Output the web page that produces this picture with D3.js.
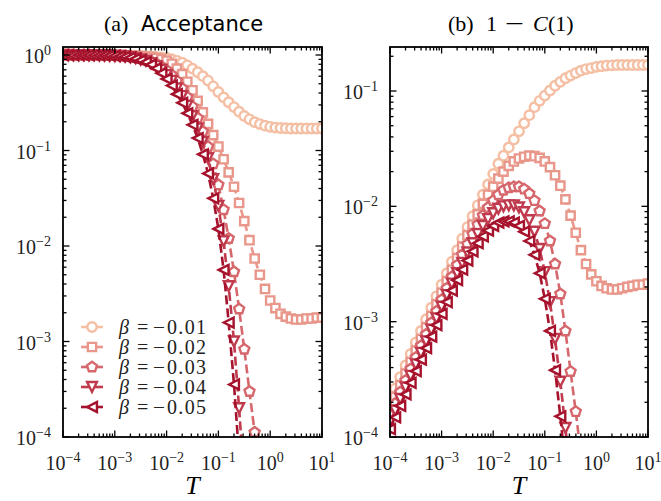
<!DOCTYPE html>
<html><head><meta charset="utf-8">
<script src="https://cdn.jsdelivr.net/npm/d3@7"></script>
<style>body{margin:0;background:#fff}svg{display:block}
text{font-family:"Liberation Serif","DejaVu Serif","Noto Serif",serif}</style>
</head><body>
<script>
// ---------------- data ----------------
const T = [1.00e-4,1.26e-4,1.58e-4,2.00e-4,2.51e-4,3.16e-4,3.98e-4,5.01e-4,6.31e-4,7.94e-4,
  1.00e-3,1.26e-3,1.58e-3,2.00e-3,2.51e-3,3.16e-3,3.98e-3,5.01e-3,6.31e-3,7.94e-3,
  1.00e-2,1.26e-2,1.58e-2,2.00e-2,2.51e-2,3.16e-2,3.98e-2,5.01e-2,6.31e-2,7.94e-2,
  0.100,0.126,0.158,0.200,0.251,0.316,0.398,0.501,0.631,0.794,
  1.00,1.26,1.58,2.00,2.51,3.16,3.98,5.01,6.31,7.94,10.0];

const betaLabels = ["0.01","0.02","0.03","0.04","0.05"];

// (a) Acceptance
const acc1 = [1.0,1.0,1.0,0.999,0.999,0.999,0.998,0.998,0.997,0.996,0.995,
  0.994,0.992,0.989,0.985,0.98,0.974,0.966,0.956,0.944,0.93,
  0.905,0.87,0.83,0.78,0.72,0.66,0.60,0.54,0.47,0.41,
  0.36,0.32,0.285,0.255,0.23,0.212,0.198,0.189,0.182,0.177,
  0.174,0.172,0.171,0.170,0.170,0.170,0.170,0.170,0.170,0.170];
const acc2 = [1.0,1.0,1.0,0.999,0.999,0.998,0.998,0.997,0.996,0.995,0.993,
  0.991,0.988,0.984,0.979,0.972,0.963,0.95,0.93,0.905,0.87,
  0.81,0.72,0.63,0.525,0.427,0.331,0.251,0.19,0.145,0.11,
  0.081,0.059,0.0417,0.0282,0.0182,0.0115,0.0074,0.0050,0.00355,0.00269,
  0.00224,0.00195,0.00182,0.00174,0.0017,0.0017,0.00174,0.00174,0.00178,0.00178];
const acc3 = [1.0,1.0,0.999,0.999,0.998,0.997,0.996,0.994,0.992,0.989,0.986,
  0.981,0.974,0.962,0.944,0.92,0.891,0.855,0.813,0.759,0.692,
  0.617,0.537,0.447,0.363,0.288,0.219,0.158,0.11,0.0724,0.0437,
  0.024,0.012,0.00537,0.00219,0.00083,0.0003,0.000112,0.00004];
const acc4 = [1.0,1.0,0.999,0.999,0.998,0.997,0.996,0.994,0.992,0.988,0.982,
  0.977,0.966,0.95,0.933,0.902,0.871,0.822,0.767,0.70,0.617,
  0.537,0.447,0.372,0.295,0.229,0.17,0.123,0.0832,0.0501,0.0263,
  0.0112,0.0038,0.001,0.0002,0.0000316];
const acc5 = [1.0,1.0,0.999,0.998,0.997,0.996,0.995,0.993,0.99,0.986,0.977,
  0.968,0.955,0.938,0.912,0.881,0.841,0.794,0.724,0.646,0.562,
  0.479,0.389,0.316,0.245,0.186,0.135,0.0912,0.0575,0.0316,0.0151,
  0.00562,0.00158,0.000355,0.000063];

// (b) 1 - C(1)
const corr1 = [2.09e-4,2.63e-4,3.31e-4,4.17e-4,5.25e-4,6.61e-4,8.32e-4,1.05e-3,1.32e-3,1.66e-3,2.09e-3,
  2.63e-3,3.31e-3,4.17e-3,5.25e-3,6.61e-3,8.22e-3,0.0102,0.0126,0.0155,0.0191,
  0.0234,0.0275,0.0324,0.038,0.0447,0.0525,0.0617,0.0724,0.0822,0.0912,
  0.101,0.111,0.12,0.129,0.136,0.143,0.15,0.155,0.158,0.162,
  0.164,0.166,0.167,0.168,0.168,0.168,0.168,0.168,0.168,0.168];
const corr2 = [1.78e-4,2.24e-4,2.82e-4,3.55e-4,4.47e-4,5.62e-4,7.08e-4,8.91e-4,1.12e-3,1.41e-3,1.78e-3,
  2.24e-3,2.82e-3,3.55e-3,4.47e-3,5.62e-3,6.92e-3,8.51e-3,0.0105,0.0126,0.0148,
  0.0174,0.02,0.0224,0.0245,0.026,0.0269,0.0275,0.0272,0.0263,0.0245,
  0.0219,0.0186,0.0151,0.0115,0.0083,0.0059,0.00417,0.00316,0.00257,0.00224,
  0.00204,0.00195,0.0019,0.0019,0.00195,0.002,0.00204,0.00209,0.00209,0.00214];
const corr3 = [1.55e-4,1.95e-4,2.45e-4,3.09e-4,3.89e-4,4.9e-4,6.17e-4,7.76e-4,9.77e-4,1.23e-3,1.55e-3,
  1.95e-3,2.45e-3,3.09e-3,3.8e-3,4.68e-3,5.75e-3,6.92e-3,8.32e-3,9.77e-3,0.0112,
  0.0126,0.0138,0.0145,0.0148,0.0148,0.0141,0.0129,0.0112,0.0091,0.00708,
  0.00501,0.00316,0.00174,0.00083,0.00037,0.000166,0.0000708];
const corr4 = [1.35e-4,1.7e-4,2.14e-4,2.69e-4,3.39e-4,4.27e-4,5.37e-4,6.76e-4,8.51e-4,1.07e-3,1.35e-3,
  1.7e-3,2.14e-3,2.63e-3,3.24e-3,3.98e-3,4.79e-3,5.75e-3,6.76e-3,7.76e-3,8.71e-3,
  9.55e-3,0.01,0.0102,0.0102,9.77e-3,8.91e-3,7.59e-3,6.03e-3,4.27e-3,2.69e-3,
  1.48e-3,7.08e-4,3.02e-4,1.2e-4,4.47e-5];
const corr5 = [1.17e-4,1.48e-4,1.86e-4,2.34e-4,2.95e-4,3.72e-4,4.68e-4,5.89e-4,7.41e-4,9.33e-4,1.17e-3,
  1.48e-3,1.86e-3,2.29e-3,2.82e-3,3.39e-3,4.07e-3,4.79e-3,5.5e-3,6.17e-3,6.76e-3,
  7.24e-3,7.41e-3,7.41e-3,7.24e-3,6.76e-3,6.03e-3,5.01e-3,3.8e-3,2.63e-3,1.58e-3,
  8.32e-4,3.8e-4,1.51e-4,5.62e-5];

const xTickExps = [-4,-3,-2,-1,0,1];
const yTickExpsA = [-4,-3,-2,-1,0];
const yTickExpsB = [-4,-3,-2,-1];

// ---------------- style ----------------
const colors = ["#f5bfa4","#e8978a","#d6686d","#c03a4e","#a6122c"];
const shapes = ["o","s","p","v","<"];
const W = 661, H = 501;
const MS = 4.7, MW = 2.4, LW = 2.6, DASH = "9,4";
const INK = "#222";

const svg = d3.select("body").append("svg").attr("width", W).attr("height", H);

function markerPath(type, s) {
  const p = d3.path();
  if (type === "o") { p.arc(0, 0, s, 0, 2 * Math.PI); p.closePath(); }
  else if (type === "s") { const h = s * 0.88; p.rect(-h, -h, 2 * h, 2 * h); }
  else if (type === "p") {
    const r = s * 1.12;
    for (let i = 0; i < 5; i++) {
      const a = -Math.PI / 2 + i * 2 * Math.PI / 5;
      const x = r * Math.cos(a), y = r * Math.sin(a);
      if (i === 0) p.moveTo(x, y); else p.lineTo(x, y);
    }
    p.closePath();
  } else if (type === "v") {
    const r = s * 1.05;
    p.moveTo(0, r); p.lineTo(-r, -r); p.lineTo(r, -r); p.closePath();
  } else if (type === "<") {
    const r = s * 1.05;
    p.moveTo(-r, 0); p.lineTo(r, -r); p.lineTo(r, r); p.closePath();
  }
  return p.toString();
}

function sup(sel, exp, base, supSize) {
  sel.append("tspan").text("10").attr("font-size", base);
  sel.append("tspan").text(exp < 0 ? "\u2212" + (-exp) : String(exp))
    .attr("font-size", supSize).attr("dy", -8);
}

function panel(id, x0, x1, y0, y1, yDomain, yTicks, series) {
  const x = d3.scaleLog().domain([1e-4, 10]).range([x0, x1]);
  const y = d3.scaleLog().domain(yDomain).range([y1, y0]);
  const g = svg.append("g");
  const clipId = "clip" + id;
  svg.append("clipPath").attr("id", clipId).append("rect")
    .attr("x", x0).attr("y", y0).attr("width", x1 - x0).attr("height", y1 - y0);

  const plot = g.append("g").attr("clip-path", `url(#${clipId})`);
  const line = d3.line().x(d => x(d[0])).y(d => y(d[1]));
  series.forEach((vals, i) => {
    const pts = vals.map((v, k) => [T[k], v]);
    plot.append("path").datum(pts).attr("d", line)
      .attr("fill", "none").attr("stroke", colors[i]).attr("stroke-width", LW)
      .attr("stroke-dasharray", DASH);
    plot.append("g").selectAll("path").data(pts).join("path")
      .attr("transform", d => `translate(${x(d[0])},${y(d[1])})`)
      .attr("d", markerPath(shapes[i], MS))
      .attr("fill", "#fff").attr("stroke", colors[i]).attr("stroke-width", MW);
  });

  const tk = g.append("g").attr("stroke", "#000").attr("stroke-width", 1.3);
  x.ticks().forEach(t => {
    const major = Math.abs(Math.log10(t) - Math.round(Math.log10(t))) < 1e-6;
    const L = major ? 6.5 : 3.5;
    const px = x(t);
    tk.append("line").attr("x1", px).attr("x2", px).attr("y1", y1).attr("y2", y1 - L);
    tk.append("line").attr("x1", px).attr("x2", px).attr("y1", y0).attr("y2", y0 + L);
  });
  y.ticks().forEach(t => {
    const major = Math.abs(Math.log10(t) - Math.round(Math.log10(t))) < 1e-6;
    const L = major ? 6.5 : 3.5;
    const py = y(t);
    if (py < y0 - 0.5) return;
    tk.append("line").attr("y1", py).attr("y2", py).attr("x1", x0).attr("x2", x0 + L);
    tk.append("line").attr("y1", py).attr("y2", py).attr("x1", x1).attr("x2", x1 - L);
  });

  g.append("rect").attr("x", x0).attr("y", y0).attr("width", x1 - x0).attr("height", y1 - y0)
    .attr("fill", "none").attr("stroke", "#000").attr("stroke-width", 1.8);

  xTickExps.forEach(e => {
    const t = g.append("text").attr("x", x(Math.pow(10, e))).attr("y", y1 + 33)
      .attr("text-anchor", "middle").attr("fill", INK);
    sup(t, e, 20, 14);
  });
  yTicks.forEach(e => {
    const t = g.append("text").attr("x", x0 - 12).attr("y", y(Math.pow(10, e)) + 8)
      .attr("text-anchor", "end").attr("fill", INK);
    sup(t, e, 20, 14);
  });

  g.append("text").attr("x", (x0 + x1) / 2).attr("y", 494).attr("text-anchor", "middle")
    .attr("font-style", "italic").attr("font-size", 26).text("T");
}

panel("a", 63, 322, 47, 437, [1e-4, 1.213], yTickExpsA, [acc1, acc2, acc3, acc4, acc5]);
panel("b", 390, 648, 47, 437, [1e-4, 0.2407], yTickExpsB, [corr1, corr2, corr3, corr4, corr5]);

// titles
svg.append("text").attr("x", 104).attr("y", 31).attr("font-size", 22).text("(a)");
svg.append("text").attr("x", 141).attr("y", 31).attr("font-size", 21)
  .style("font-family", "'DejaVu Sans',sans-serif").text("Acceptance");
svg.append("text").attr("x", 448).attr("y", 31).attr("font-size", 22).text("(b)");
svg.append("text").attr("x", 486).attr("y", 31).attr("font-size", 22).text("1");
svg.append("text").attr("x", 505).attr("y", 31).attr("font-size", 22)
  .attr("textLength", 19).attr("lengthAdjust", "spacingAndGlyphs").text("\u2212");
svg.append("text").attr("x", 533).attr("y", 31).attr("font-size", 22).attr("font-style", "italic").text("C");
svg.append("text").attr("x", 548).attr("y", 31).attr("font-size", 22).text("(1)");

// legend
const lg = svg.append("g");
betaLabels.forEach((lab, i) => {
  const yy = 327 + i * 20;
  lg.append("line").attr("x1", 81).attr("x2", 103).attr("y1", yy).attr("y2", yy)
    .attr("stroke", colors[i]).attr("stroke-width", LW);
  lg.append("path").attr("transform", `translate(92,${yy})`).attr("d", markerPath(shapes[i], MS))
    .attr("fill", "#fff").attr("stroke", colors[i]).attr("stroke-width", MW);
  const fs = 20;
  lg.append("text").attr("x", 119).attr("y", yy + 7).attr("font-size", fs).attr("fill", INK)
    .attr("font-style", "italic").text("\u03b2");
  lg.append("text").attr("x", 137).attr("y", yy + 7).attr("font-size", fs).attr("fill", INK).text("=");
  lg.append("text").attr("x", 153).attr("y", yy + 7).attr("font-size", fs).attr("fill", INK)
    .attr("textLength", 12).attr("lengthAdjust", "spacingAndGlyphs").text("\u2212");
  lg.append("text").attr("x", 167).attr("y", yy + 7).attr("font-size", fs).attr("fill", INK)
    .attr("textLength", 39).attr("lengthAdjust", "spacing").text(lab);
});
</script>
</body></html>
